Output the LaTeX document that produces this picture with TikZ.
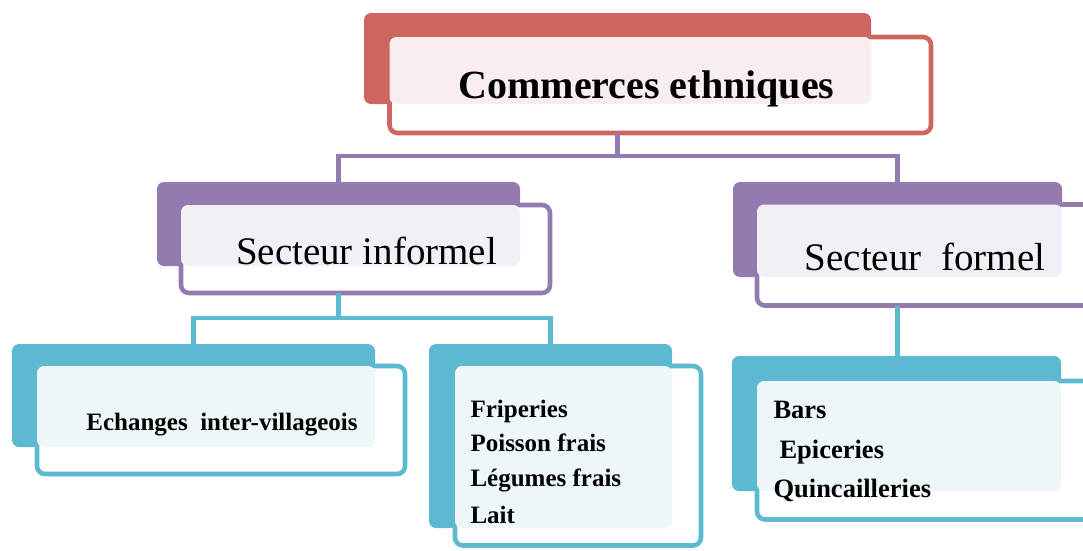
\documentclass[tikz,border=0pt]{standalone}
\usepackage{fontspec}
\setmainfont{Liberation Serif}
\definecolor{rd}{HTML}{CD6660}
\definecolor{rdt}{HTML}{F9EEEE}
\definecolor{pu}{HTML}{937BB0}
\definecolor{put}{HTML}{F2F0F6}
\definecolor{tl}{HTML}{5DB9D1}
\definecolor{tlt}{HTML}{EDF6F9}
\begin{document}
\begin{tikzpicture}[x=1pt,y=-1pt,
  backbox/.style={fill=#1,draw=none,rounded corners=7pt,anchor=north west,inner sep=0pt,outer sep=0pt},
  frontbox/.style={fill=white,draw=#1,line width=4.6pt,rounded corners=8pt,anchor=north west,inner sep=0pt,outer sep=0pt},
  tint/.style={fill=#1,rounded corners=7pt},
  conn/.style={draw=#1,line width=4.6pt},
  titletext/.style={anchor=base,font=\fontsize{40}{48}\selectfont\bfseries},
  sectext/.style={anchor=base,font=\fontsize{39}{46}\selectfont},
  itemtext/.style={anchor=base west,font=\fontsize{25}{30}\selectfont\bfseries},
  itemtextb/.style={anchor=base west,font=\fontsize{26.5}{30}\selectfont\bfseries}]
\path[use as bounding box,clip] (0,0) rectangle (1083,550);
% top box
\node[backbox=rd,minimum width=507pt,minimum height=91pt] (topb) at (364,13) {};
\node[frontbox=rd,minimum width=541.5pt,minimum height=96pt] (topf) at (389.5,37) {};
\fill[tint=rdt] (topf.north west) rectangle (topb.south east);
\node[titletext] (title) at (646.5,98) {Commerces ethniques};
% secteur informel
\node[backbox=pu,minimum width=363pt,minimum height=84pt] (infb) at (157,182) {};
\node[frontbox=pu,minimum width=369pt,minimum height=88pt] (inff) at (181,205) {};
\fill[tint=put] (inff.north west) rectangle (infb.south east);
\node[sectext] (inft) at (366.5,264) {Secteur informel};
% secteur formel
\node[backbox=pu,minimum width=329pt,minimum height=95pt] (forb) at (733,182) {};
\node[frontbox=pu,minimum width=343pt,minimum height=101pt] (forf) at (757,204.5) {};
\fill[tint=put] (forf.north west) rectangle (forb.south east);
\node[sectext] (fort) at (925,270) {Secteur\ \ formel};
% echanges
\node[backbox=tl,minimum width=363pt,minimum height=103pt] (echb) at (12,344) {};
\node[frontbox=tl,minimum width=368pt,minimum height=108pt] (echf) at (37,366) {};
\fill[tint=tlt] (echf.north west) rectangle (echb.south east);
\node[anchor=base,font=\fontsize{25}{30}\selectfont\bfseries] (echt) at (222,430) {Echanges\ \ inter-villageois};
% middle list
\node[backbox=tl,minimum width=243pt,minimum height=184pt] (midb) at (429,344) {};
\node[frontbox=tl,minimum width=246pt,minimum height=179.5pt] (midf) at (455,366) {};
\fill[tint=tlt] (midf.north west) rectangle (midb.south east);
\node[itemtext] (m1) at (467,417) {Friperies};
\node[itemtext] (m2) at (467,451) {Poisson frais};
\node[itemtext] (m3) at (467,486) {Légumes frais};
\node[itemtext] (m4) at (467,523) {Lait};
% right list
\node[backbox=tl,minimum width=329pt,minimum height=135pt] (rlb) at (732,356) {};
\node[frontbox=tl,minimum width=343pt,minimum height=138.5pt] (rlf) at (757,381) {};
\fill[tint=tlt] (rlf.north west) rectangle (rlb.south east);
\node[itemtextb] (r1) at (770,418) {Bars};
\node[itemtextb] (r2) at (776,458) {Epiceries};
\node[itemtextb] (r3) at (770,497) {Quincailleries};
% connectors
\coordinate (busP) at (0,156);
\coordinate (busT) at (0,318);
\draw[conn=pu] (topb.south |- topf.south) -- (topb.south |- busP) -| (infb.north);
\draw[conn=pu] (topb.south |- busP) -| (forb.north);
\draw[conn=tl] (infb.south |- inff.south) -- (infb.south |- busT) -| (echb.north);
\draw[conn=tl] (infb.south |- busT) -| (midb.north);
\draw[conn=tl] (forb.south |- forf.south) -- (forb.south |- rlb.north);
\end{tikzpicture}
\end{document}
